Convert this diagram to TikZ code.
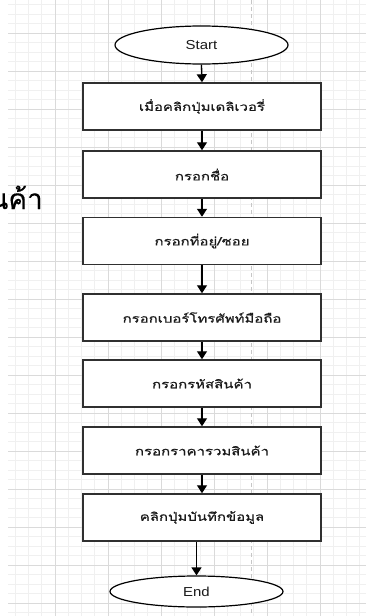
\documentclass[tikz,border=0pt]{standalone}
\usepackage{fontspec}
\setmainfont{Liberation Sans}
\newfontfamily\thaifont[Script=Thai,FakeStretch=1.3,FakeBold=0.6]{Loma}
\newfontfamily\thaibig[Script=Thai,FakeBold=0.3]{Loma}
\newfontfamily\termfont[FakeStretch=1.15]{Liberation Sans}
\usetikzlibrary{shapes.geometric,arrows.meta}
\definecolor{minorgrid}{HTML}{F0F0F0}
\definecolor{majorgrid}{HTML}{DADADA}
\definecolor{boxline}{HTML}{303030}
\definecolor{txt}{HTML}{1A1A1A}
\tikzset{
  minorline/.style={draw=minorgrid, line width=0.6pt},
  majorline/.style={draw=majorgrid, line width=0.7pt},
  stepbox/.style={draw=boxline, line width=1.5pt, fill=white, rectangle,
    minimum width=238pt, minimum height=47pt, inner sep=0pt, text=txt,
    font=\thaifont\fontsize{11.5}{13}\selectfont},
  termbox/.style={draw=black, line width=1.2pt, fill=white, ellipse,
    minimum width=173pt, inner sep=0pt, text=txt, font=\termfont\fontsize{13}{15}\selectfont},
  flow/.style={draw=black, line width=1.3pt, -{Triangle[width=10pt,length=8pt]}}
}
\begin{document}
\begin{tikzpicture}[x=1pt,y=-1pt]
\useasboundingbox (0,0) rectangle (366,616);
\clip (0,0) rectangle (366,616);
\fill[white] (0,0) rectangle (366,616);
\begin{scope}
\clip (8,0) rectangle (366,616);
\foreach \i in {0,...,28} {
  \pgfmathsetmacro\xx{2+13.25*\i}
  \draw[minorline] (\xx,0) -- (\xx,616);
}
\foreach \i in {0,...,66} {
  \pgfmathsetmacro\yy{-5+9.5*\i}
  \draw[minorline] (8,\yy) -- (366,\yy);
}
\foreach \i in {0,...,7} {
  \pgfmathsetmacro\xx{2+53*\i}
  \draw[majorline] (\xx,0) -- (\xx,616);
}
\foreach \i in {0,...,17} {
  \pgfmathsetmacro\yy{-5+38*\i}
  \draw[majorline] (8,\yy) -- (366,\yy);
}
\end{scope}
\draw[gray!45, line width=0.9pt, dash pattern=on 4pt off 3pt] (251,0) -- (251,616);

\node[anchor=base east, inner sep=0pt, text=black, font=\thaibig\fontsize{28}{30}\selectfont] (big) at (43,209) {นค้า};

\node[termbox, minimum height=38pt] (start) at (201.5,45) {Start};
\node[stepbox] (b1) at (202,106.5) {เมื่อคลิกปุ่มเดลิเวอรี่};
\node[stepbox] (b2) at (202,174.5) {กรอกชื่อ};
\node[stepbox] (b3) at (202,241) {กรอกที่อยู่/ซอย};
\node[stepbox] (b4) at (202,317.5) {กรอกเบอร์โทรศัพท์มือถือ};
\node[stepbox] (b5) at (202,383.5) {กรอกรหัสสินค้า};
\node[stepbox] (b6) at (202,450.5) {กรอกราคารวมสินค้า};
\node[stepbox] (b7) at (202,517.5) {คลิกปุ่มบันทึกข้อมูล};
\node[termbox, minimum height=31pt] (end) at (196.5,591.5) {End};

\draw[flow] (start.south) -- (b1.north);
\draw[flow] (b1.south) -- (b2.north);
\draw[flow] (b2.south) -- (b3.north);
\draw[flow] (b3.south) -- (b4.north);
\draw[flow] (b4.south) -- (b5.north);
\draw[flow] (b5.south) -- (b6.north);
\draw[flow] (b6.south) -- (b7.north);
\draw[flow] (end.north |- b7.south) -- (end.north);
\end{tikzpicture}
\end{document}
